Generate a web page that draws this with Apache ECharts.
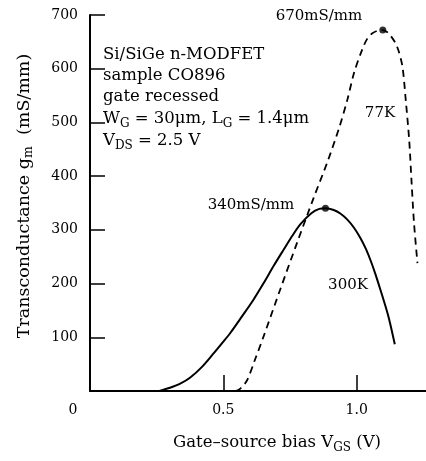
<!DOCTYPE html>
<html>
<head>
<meta charset="utf-8">
<script src="https://cdn.jsdelivr.net/npm/echarts@6/dist/echarts.min.js"></script>
<style>
  html, body { margin: 0; padding: 0; background: #fff; }
  #chart { width: 426px; height: 461px; }
</style>
</head>
<body>
<div id="chart"></div>
<script>
// 300K curve (solid)
const vgs300 = [0.26, 0.30, 0.34, 0.376, 0.42, 0.46, 0.50, 0.526, 0.57, 0.613, 0.65, 0.69, 0.726, 0.76, 0.79, 0.83, 0.86, 0.883, 0.914, 0.94, 0.965, 0.99, 1.015, 1.035, 1.053, 1.07, 1.09, 1.105, 1.121, 1.143];
const gm300 = [0, 6, 14, 25, 45, 68, 92, 108, 139, 170, 200, 234, 263, 290, 311, 331, 339, 340, 337, 330, 319, 304, 284, 264, 242, 218, 187, 163, 135, 87];
// 77K curve (dashed)
const vgs77 = [0.50, 0.545, 0.565, 0.589, 0.62, 0.652, 0.714, 0.778, 0.839, 0.89, 0.933, 0.965, 0.99, 1.021, 1.04, 1.059, 1.08, 1.098, 1.115, 1.128, 1.145, 1.158, 1.172, 1.184, 1.197, 1.206, 1.215, 1.228];
const gm77 = [0, 0, 5, 20, 60, 103, 190, 278, 360, 426, 488, 542, 592, 636, 656, 666, 671, 672, 668, 661, 648, 632, 603, 542, 467, 388, 313, 238];
// peaks
const peak300 = [0.883, 340];
const peak77 = [1.098, 672];

const font = 'DejaVu Serif';
const mychart = echarts.init(document.getElementById('chart'));

function pairs(xs, ys) {
  return xs.map((x, i) => [x, ys[i]]);
}

function sub(size) {
  return { fontFamily: font, fontSize: size, padding: [9, 0, 0, 0], color: '#000' };
}

function label(x, y, text, size, align, rich) {
  return {
    type: 'text',
    x: x, y: y,
    style: {
      text: text,
      font: size + 'px "' + font + '"',
      fill: '#000',
      align: align || 'left',
      verticalAlign: 'middle',
      rich: rich || {}
    }
  };
}

let option = {
  animation: false,
  grid: { left: 90, right: 0, top: 15, bottom: 70 },
  xAxis: {
    type: 'value',
    min: 0,
    max: 1.26,
    interval: 0.5,
    splitLine: { show: false },
    axisLine: { lineStyle: { color: '#000', width: 2 } },
    axisTick: { inside: true, length: 16, lineStyle: { color: '#000', width: 1.5 } },
    axisLabel: {
      showMaxLabel: false,
      margin: 12,
      fontFamily: font,
      fontSize: 14,
      color: '#000',
      formatter: v => v === 0 ? '{z|0}' : v.toFixed(1),
      rich: { z: { fontFamily: font, fontSize: 14, color: '#000', padding: [0, 34, 0, 0] } }
    }
  },
  yAxis: {
    type: 'value',
    min: 0,
    max: 700,
    interval: 100,
    splitLine: { show: false },
    axisLine: { show: true, lineStyle: { color: '#000', width: 2 } },
    axisTick: { inside: true, length: 15, lineStyle: { color: '#000', width: 1.5 } },
    axisLabel: {
      showMinLabel: false,
      margin: 12,
      fontFamily: font,
      fontSize: 14,
      color: '#000'
    }
  },
  graphic: [
    label(103, 55, 'Si/SiGe n-MODFET', 16.5),
    label(103, 76, 'sample CO896', 16.5),
    label(103, 97, 'gate recessed', 16.5),
    label(103, 119, 'W{s|G} = 30μm, L{s|G} = 1.4μm', 16.5, 'left', { s: sub(12) }),
    label(103, 141, 'V{s|DS} = 2.5 V', 16.5, 'left', { s: sub(12) }),
    label(319, 16, '670mS/mm', 15, 'center'),
    label(251, 205, '340mS/mm', 15, 'center'),
    label(380, 113, '77K', 15, 'center'),
    label(348, 285, '300K', 15, 'center'),
    label(277, 443, 'Gate–source bias V{s|GS} (V)', 16.5, 'center', { s: sub(12) }),
    {
      type: 'text',
      x: 24, y: 196,
      rotation: Math.PI / 2,
      style: {
        text: 'Transconductance g{s|m}  (mS/mm)',
        font: '17.5px "' + font + '"',
        fill: '#000',
        align: 'center',
        verticalAlign: 'middle',
        rich: { s: sub(12.5) }
      }
    }
  ],
  series: [
    {
      name: '300K',
      type: 'line',
      smooth: 0.3,
      showSymbol: false,
      lineStyle: { color: '#000', width: 2 },
      data: pairs(vgs300, gm300)
    },
    {
      name: '77K',
      type: 'line',
      smooth: 0.3,
      showSymbol: false,
      lineStyle: { color: '#000', width: 1.8, type: [7, 5] },
      data: pairs(vgs77, gm77)
    },
    {
      name: 'peaks',
      type: 'scatter',
      symbolSize: 7,
      itemStyle: { color: '#000' },
      data: [peak300, peak77]
    }
  ]
};

mychart.setOption(option, true);
</script>
</body>
</html>
